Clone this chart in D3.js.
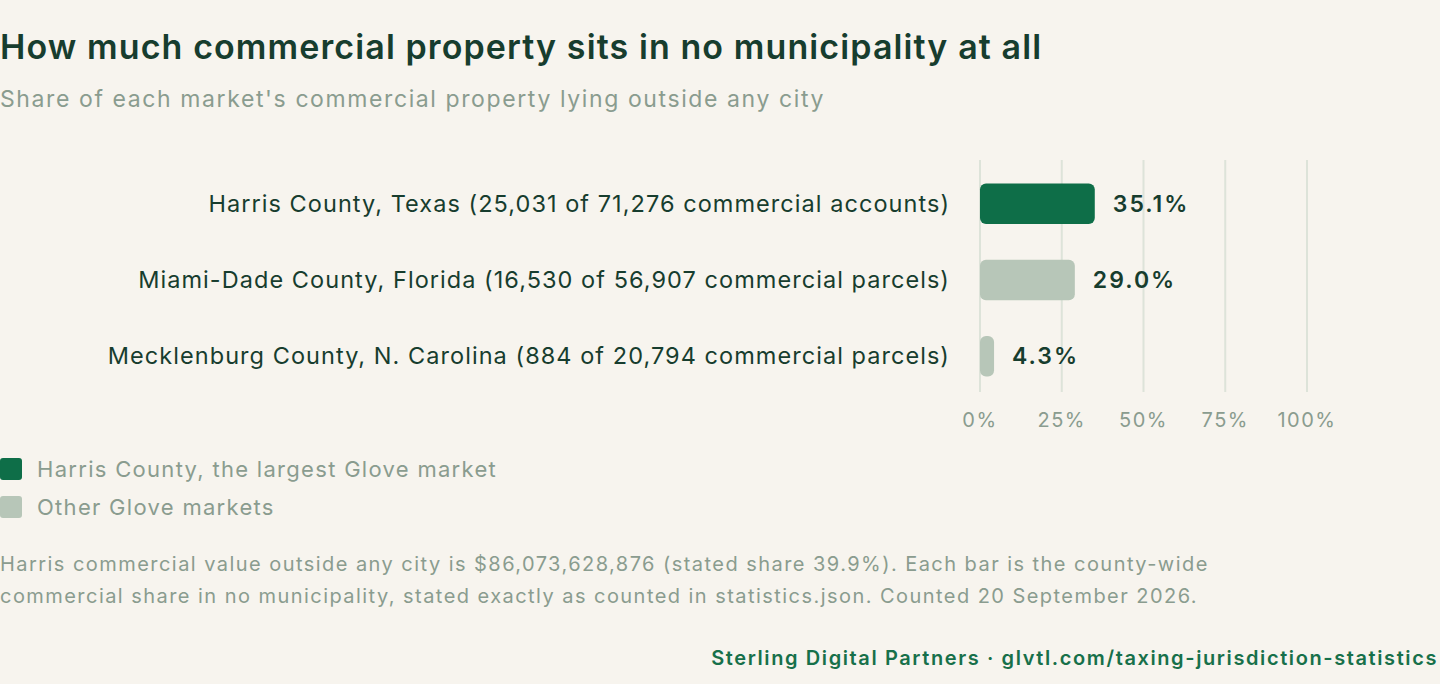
<!DOCTYPE html>
<html>
<head>
<meta charset="utf-8">
<script src="https://cdn.jsdelivr.net/npm/d3@7"></script>
<style>
  body { margin: 0; background: #f7f4ee; }
  svg { display: block; font-family: Inter, sans-serif; }
</style>
</head>
<body>
<svg id="chart" width="1440" height="684"></svg>
<script>
const categories = [
  "Harris County, Texas (25,031 of 71,276 commercial accounts)",
  "Miami-Dade County, Florida (16,530 of 56,907 commercial parcels)",
  "Mecklenburg County, N. Carolina (884 of 20,794 commercial parcels)"
]
const shares = [35.1, 29.0, 4.3]
const highlight = [true, false, false]
const ticks = [0, 25, 50, 75, 100]
const legendLabels = ["Harris County, the largest Glove market", "Other Glove markets"]

const dark = "#0e6e48", light = "#b7c6b8", ink = "#173d2e", muted = "#8a9c8f"

const svg = d3.select("#chart")
svg.append("rect").attr("width", 1440).attr("height", 684).attr("fill", "#f7f4ee")

svg.append("text").attr("x", 0).attr("y", 59)
  .style("font-size", "34px").style("font-weight", "600").style("letter-spacing", "1.1px").attr("fill", ink)
  .text("How much commercial property sits in no municipality at all")
svg.append("text").attr("x", 0).attr("y", 107)
  .style("font-size", "23px").style("letter-spacing", "1.6px").attr("fill", muted)
  .text("Share of each market's commercial property lying outside any city")

const x = d3.scaleLinear().domain([0, 100]).range([980, 1307])
const y = d3.scaleBand().domain(categories).range([166, 394]).paddingInner(0.47).paddingOuter(0.23)

// gridlines
svg.selectAll(".grid").data(ticks).enter().append("line")
  .attr("x1", d => x(d)).attr("x2", d => x(d))
  .attr("y1", 160).attr("y2", 392)
  .attr("stroke", "#dde3d9").attr("stroke-width", 2)

svg.selectAll(".tick").data(ticks).enter().append("text")
  .attr("x", d => x(d)).attr("y", 427)
  .style("text-anchor", "middle").style("font-size", "20px").style("letter-spacing", "1.5px").attr("fill", muted)
  .text(d => d + "%")

// bars
svg.selectAll(".bar").data(categories).enter().append("rect")
  .attr("x", x(0)).attr("y", d => y(d))
  .attr("width", (d, i) => x(shares[i]) - x(0))
  .attr("height", y.bandwidth()).attr("rx", 6)
  .attr("fill", (d, i) => highlight[i] ? dark : light)

svg.selectAll(".cat").data(categories).enter().append("text")
  .attr("x", 950).attr("y", d => y(d) + y.bandwidth() / 2)
  .attr("dy", "0.35em").style("text-anchor", "end")
  .style("font-size", "23.5px").style("letter-spacing", "1.05px").attr("fill", ink)
  .text(d => d)

svg.selectAll(".val").data(categories).enter().append("text")
  .attr("x", (d, i) => x(shares[i]) + 18).attr("y", d => y(d) + y.bandwidth() / 2)
  .attr("dy", "0.35em").style("font-size", "23px").style("font-weight", "600")
  .style("letter-spacing", "2px").attr("fill", ink)
  .text((d, i) => shares[i].toFixed(1) + "%")

// Legend
legendLabels.forEach((l, i) => {
  svg.append("rect").attr("x", 0).attr("y", 458 + i * 38).attr("width", 22).attr("height", 22)
    .attr("rx", 3).attr("fill", i === 0 ? dark : light)
  svg.append("text").attr("x", 37).attr("y", 469 + i * 38).attr("dy", "0.35em")
    .style("font-size", "22px").style("letter-spacing", "1.3px").attr("fill", muted).text(l)
})

// Footnote
const notes = [
  "Harris commercial value outside any city is $86,073,628,876 (stated share 39.9%). Each bar is the county-wide",
  "commercial share in no municipality, stated exactly as counted in statistics.json. Counted 20 September 2026."
]
notes.forEach((n, i) => {
  svg.append("text").attr("x", 0).attr("y", 571 + i * 32)
    .style("font-size", "20px").style("letter-spacing", "1.45px").attr("fill", muted).text(n)
})

svg.append("text").attr("x", 1438).attr("y", 665).style("text-anchor", "end")
  .style("font-size", "20px").style("font-weight", "600").style("letter-spacing", "1.6px").attr("fill", "#17704a")
  .text("Sterling Digital Partners · glvtl.com/taxing-jurisdiction-statistics")
</script>
</body>
</html>
